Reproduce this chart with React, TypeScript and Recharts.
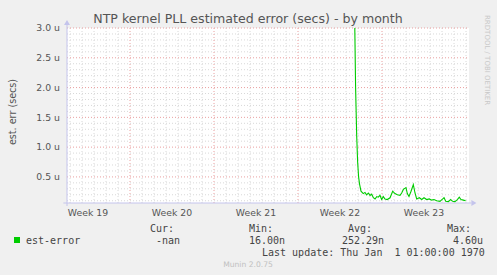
import {
  LineChart,
  Line,
  XAxis,
  YAxis,
  CartesianGrid,
  ReferenceLine,
  ReferenceDot,
} from 'recharts';

// days since start of the month window, values in microseconds
const days = [
  23.86, 23.97, 24.05, 24.14, 24.22, 24.3, 24.38, 24.5, 24.69, 24.83, 24.97, 25.11,
  25.25, 25.39, 25.53, 25.67, 25.81, 25.94, 26.08, 26.22, 26.36, 26.5, 26.69, 26.92,
  27.14, 27.33, 27.53, 27.75, 27.89, 28.03, 28.25, 28.36, 28.5, 28.67, 28.86, 29.0,
  29.14, 29.36, 29.56, 29.75, 29.97, 30.19, 30.39, 30.58, 30.81, 31.08, 31.31, 31.42,
  31.56, 31.78, 31.97, 32.14, 32.33, 32.53, 32.69, 32.83, 33.03, 33.22,
];
const estError = [
  4.6, 3.2, 2.0, 1.2, 0.75, 0.5, 0.38, 0.26, 0.22, 0.24, 0.2, 0.23,
  0.19, 0.21, 0.15, 0.13, 0.17, 0.16, 0.19, 0.12, 0.17, 0.13, 0.12, 0.15,
  0.26, 0.22, 0.2, 0.19, 0.23, 0.29, 0.32, 0.22, 0.17, 0.26, 0.37, 0.23,
  0.13, 0.15, 0.12, 0.15, 0.12, 0.13, 0.11, 0.12, 0.1, 0.09, 0.13, 0.15,
  0.09, 0.085, 0.12, 0.09, 0.085, 0.12, 0.16, 0.12, 0.11, 0.1,
];

const weekTicks = [1.75, 8.75, 15.75, 22.75, 29.75];
const weekLabels = ['Week 19', 'Week 20', 'Week 21', 'Week 22', 'Week 23'];
const weekBounds = [5.25, 12.25, 19.25, 26.25];
const yTicks = [0.5, 1.0, 1.5, 2.0, 2.5, 3.0];

const X_MAX = 33.5;
const Y_MIN = 0.062;
const Y_MAX = 3.0;

const dayGrid = Array.from({ length: 34 }, (_, i) => i + 0.25).filter(
  (d) => !weekBounds.includes(d)
);
const minorY = Array.from({ length: 29 }, (_, i) => Math.round((i + 1) * 10) / 100).filter(
  (v) => Math.round(v * 100) % 50 !== 0
);

const rows = days.map((d, i) => ({ day: d, err: estError[i] }));

const SANS = '"DejaVu Sans", sans-serif';
const MONO = '"DejaVu Sans Mono", monospace';
const AXIS = '#c4c4ec';

export default function App() {
  return (
    <div
      style={{
        position: 'fixed',
        left: 0,
        top: 0,
        width: 497,
        height: 275,
        background: '#f0f0f0',
      }}
    >
      <LineChart
        width={497}
        height={275}
        data={rows}
        margin={{ top: 28, right: 28, bottom: 52, left: 7 }}
      >
        <CartesianGrid horizontal={false} vertical={false} fill="#ffffff" fillOpacity={1} />
        <XAxis
          dataKey="day"
          type="number"
          domain={[0, X_MAX]}
          allowDataOverflow
          ticks={weekTicks}
          tickFormatter={(v: number) => weekLabels[weekTicks.indexOf(v)] ?? ''}
          height={20}
          tickLine={false}
          tickSize={4}
          tickMargin={2}
          axisLine={false}
          tick={{ fontSize: 9.3, fontFamily: SANS, fill: '#555' }}
        />
        <YAxis
          type="number"
          domain={[Y_MIN, Y_MAX]}
          allowDataOverflow
          ticks={yTicks}
          tickFormatter={(v: number) => `${v.toFixed(1)} u`}
          width={60}
          tickLine={false}
          tickSize={5}
          tickMargin={2}
          axisLine={false}
          tick={{ fontSize: 9.3, fontFamily: SANS, fill: '#555' }}
        />
        {dayGrid.map((d) => (
          <ReferenceLine key={'d' + d} x={d} stroke="#d8d8d8" strokeDasharray="1 2" />
        ))}
        {minorY.map((v) => (
          <ReferenceLine key={'y' + v} y={v} stroke="#d8d8d8" strokeDasharray="1 2" />
        ))}
        {weekBounds.map((d) => (
          <ReferenceLine key={'w' + d} x={d} stroke="#eaa0a0" strokeDasharray="1 2" />
        ))}
        {yTicks.map((v) => (
          <ReferenceLine key={'m' + v} y={v} stroke="#eaa0a0" strokeDasharray="1 2" />
        ))}
        <ReferenceLine
          segment={[
            { x: -0.3, y: Y_MIN },
            { x: X_MAX + 0.2, y: Y_MIN },
          ]}
          stroke={AXIS}
          ifOverflow="visible"
        />
        <ReferenceLine
          segment={[
            { x: 0, y: Y_MIN - 0.05 },
            { x: 0, y: Y_MAX + 0.05 },
          ]}
          stroke={AXIS}
          ifOverflow="visible"
        />
        <ReferenceDot
          x={X_MAX + 0.2}
          y={Y_MIN}
          ifOverflow="visible"
          shape={(p: any) => (
            <path
              d={`M${p.cx} ${p.cy - 3}L${p.cx + 5} ${p.cy}L${p.cx} ${p.cy + 3}Z`}
              fill={AXIS}
            />
          )}
        />
        <ReferenceDot
          x={0}
          y={Y_MAX + 0.05}
          ifOverflow="visible"
          shape={(p: any) => (
            <path
              d={`M${p.cx - 3} ${p.cy}L${p.cx} ${p.cy - 5}L${p.cx + 3} ${p.cy}Z`}
              fill={AXIS}
            />
          )}
        />
        <Line
          dataKey="err"
          type="linear"
          stroke="#00cc00"
          strokeWidth={1.1}
          dot={false}
          isAnimationActive={false}
        />
      </LineChart>
      <svg
        width={497}
        height={275}
        style={{ position: 'absolute', left: 0, top: 0, pointerEvents: 'none' }}
      >
        <text
          x={248}
          y={23}
          textAnchor="middle"
          fontFamily={SANS}
          fontSize={12.6}
          fill="#555"
        >
          NTP kernel PLL estimated error (secs) - by month
        </text>
        <text
          transform="translate(16 112) rotate(-90)"
          textAnchor="middle"
          fontFamily={SANS}
          fontSize={9.6}
          fill="#555"
        >
          est. err (secs)
        </text>
        <text
          transform="translate(485 15) rotate(90)"
          textAnchor="start"
          fontFamily={SANS}
          fontSize={7}
          fill="#c8c8c8"
        >
          RRDTOOL / TOBI OETIKER
        </text>
        <g fontFamily={MONO} fontSize={10} fill="#444" style={{ whiteSpace: 'pre' }}>
          <text x={150} y={232}>Cur:</text>
          <text x={249} y={232}>Min:</text>
          <text x={348} y={232}>Avg:</text>
          <text x={447} y={232}>Max:</text>
          <rect x={14} y={237} width={6} height={6} fill="#00cc00" />
          <text x={26} y={243.5}>est-error</text>
          <text x={156} y={243.5}>-nan</text>
          <text x={249} y={243.5}>16.00n</text>
          <text x={342} y={243.5}>252.29n</text>
          <text x={453} y={243.5}>4.60u</text>
          <text x={262} y={255.5} xmlSpace="preserve">
            {'Last update: Thu Jan  1 01:00:00 1970'}
          </text>
        </g>
        <text
          x={248}
          y={267}
          textAnchor="middle"
          fontFamily={SANS}
          fontSize={7.6}
          fill="#c0c0c0"
        >
          Munin 2.0.75
        </text>
      </svg>
    </div>
  );
}
